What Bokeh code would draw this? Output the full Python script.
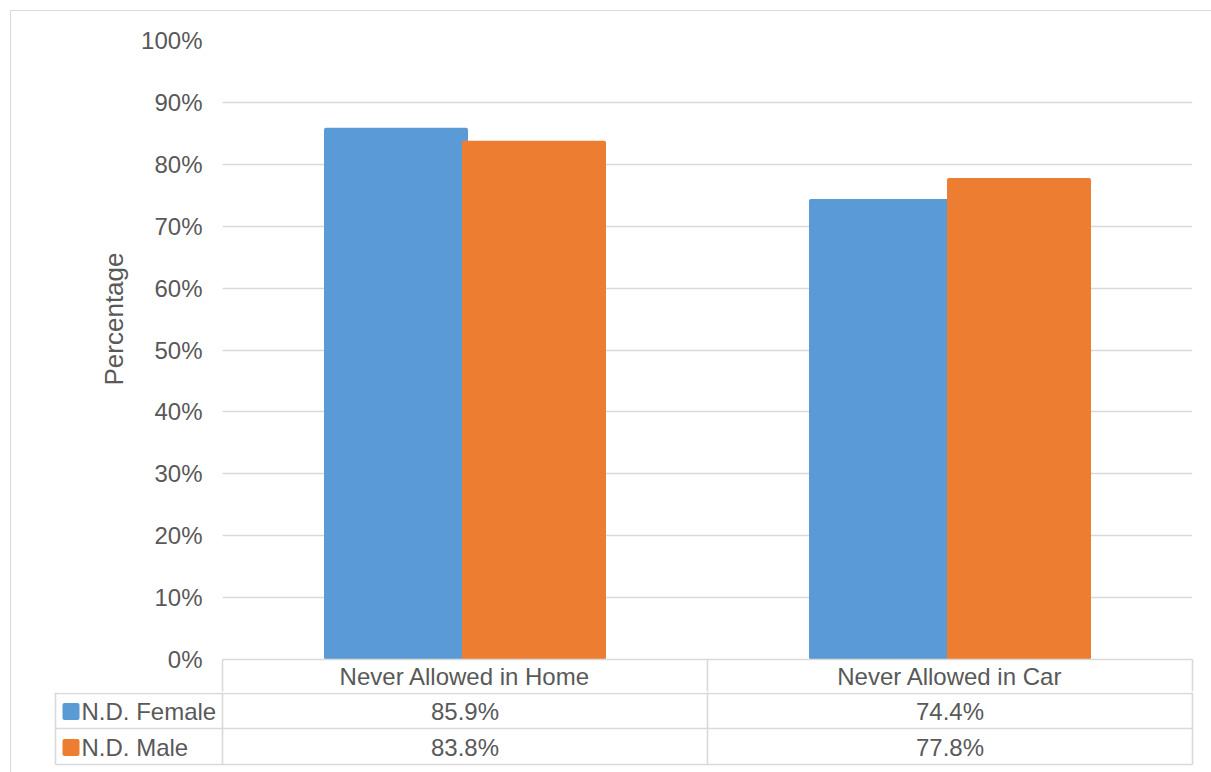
from bokeh.plotting import figure
from bokeh.layouts import column
from bokeh.models import (Range1d, PrintfTickFormatter, FixedTicker, Title,
                          ColumnDataSource, LinearAxis)
from bokeh.transform import dodge
from bokeh.core.properties import value
from bokeh.embed import file_html
from bokeh.resources import INLINE

# ---------------- data ----------------
categories = ["Never Allowed in Home", "Never Allowed in Car"]
series = ["N.D. Female", "N.D. Male"]
female = [85.9, 74.4]
male = [83.8, 77.8]
y_ticks = [0, 10, 20, 30, 40, 50, 60, 70, 80, 90, 100]
y_label = "Percentage"

# ---------------- style ----------------
colors = ["#5B9BD5", "#ED7D31"]
FONT = "Liberation Sans"
FS = "24px"
TXT = "#595959"
GRID = "#D9D9D9"

W = 1200
PX_PER_CAT = 485.0
n = len(categories)
cat_pos = [i + 0.5 for i in range(n)]   # category centres on a 0..n axis

# ---------------- chart ----------------
top = figure(width=W, height=681,
             x_range=Range1d(0, n), y_range=Range1d(0, 100),
             x_axis_location=None,
             output_backend="svg", toolbar_location=None,
             min_border_left=211, min_border_right=19,
             min_border_top=29, min_border_bottom=32)
top.frame_align = False
top.outline_line_color = None
top.xgrid.visible = False
top.ygrid.grid_line_color = GRID
top.ygrid.grid_line_width = 1.6
top.yaxis.ticker = FixedTicker(ticks=y_ticks)
top.yaxis.formatter = PrintfTickFormatter(format="%d%%")
top.yaxis.axis_line_color = None
top.yaxis.major_tick_line_color = None
top.yaxis.minor_tick_line_color = None
top.yaxis.major_tick_out = 0
top.yaxis.major_label_standoff = 20
top.yaxis.major_label_text_font = FONT
top.yaxis.major_label_text_font_size = FS
top.yaxis.major_label_text_color = TXT

# y axis title, placed a little below the frame centre as in the original
top.add_layout(Title(text=y_label, align="left", offset=274, standoff=20,
                     text_font=FONT, text_font_size="26px", text_color=TXT,
                     text_font_style="normal"), "left")

# category header row of the data table
cat_axis = LinearAxis(ticker=FixedTicker(ticks=cat_pos, minor_ticks=list(range(n + 1))),
                      major_label_overrides={p: c for p, c in zip(cat_pos, categories)})
cat_axis.axis_line_color = GRID
cat_axis.axis_line_width = 1.6
cat_axis.major_tick_line_color = None
cat_axis.major_tick_out = 0
cat_axis.major_tick_in = 0
cat_axis.minor_tick_line_color = GRID
cat_axis.minor_tick_line_width = 1.6
cat_axis.minor_tick_out = 32
cat_axis.minor_tick_in = 0
cat_axis.major_label_standoff = -29
cat_axis.major_label_text_font = FONT
cat_axis.major_label_text_font_size = FS
cat_axis.major_label_text_color = TXT
top.add_layout(cat_axis, "below")

src = ColumnDataSource(dict(pos=cat_pos, female=female, male=male))
bw = 144 / PX_PER_CAT
off = 69 / PX_PER_CAT
top.vbar(x=dodge("pos", -off), top="female", bottom=0, width=bw,
         source=src, fill_color=colors[0], line_color=None, border_radius=2)
top.vbar(x=dodge("pos", off), top="male", bottom=0, width=bw,
         source=src, fill_color=colors[1], line_color=None, border_radius=2)

# ---------------- data table rows ----------------
def px2x(px):
    return (px - 222) / PX_PER_CAT

bot = figure(width=W, height=80,
             x_range=Range1d(px2x(52), px2x(1196)),
             y_range=Range1d(76, 0),
             output_backend="svg", toolbar_location=None,
             min_border_left=52 - 11, min_border_right=1211 - 1196,
             min_border_top=0, min_border_bottom=4)
bot.frame_align = False
bot.outline_line_color = None
bot.axis.visible = False
bot.grid.visible = False

left = px2x(55)
row_y = [1, 36, 72]
bot.segment(x0=[left] * 3, y0=row_y, x1=[n] * 3, y1=row_y, line_color=GRID, line_width=1.6)
vx = [left] + list(range(n + 1))
bot.segment(x0=vx, y0=[0] * len(vx), x1=vx, y1=[72] * len(vx), line_color=GRID, line_width=1.6)

text_kw = dict(text_font=value(FONT), text_font_size=value(FS), text_color=TXT,
               text_baseline="middle")
bot.text(x=cat_pos, y=[19] * n, text=[f"{v:.1f}%" for v in female], text_align="center", **text_kw)
bot.text(x=cat_pos, y=[55] * n, text=[f"{v:.1f}%" for v in male], text_align="center", **text_kw)

bot.rect(x=[px2x(70.5)] * 2, y=[19, 55], width=17, height=17,
         width_units="screen", height_units="screen",
         fill_color=colors, line_color=None, border_radius=2)
bot.text(x=[px2x(81)] * 2, y=[19, 55], text=series, text_align="left", **text_kw)

layout = column(top, bot, spacing=0,
                styles={"border-top": "1px solid #D9D9D9", "border-left": "1px solid #D9D9D9",
                        "margin-top": "10px", "margin-left": "10px"})

open("out.html", "w").write(file_html(layout, INLINE))
